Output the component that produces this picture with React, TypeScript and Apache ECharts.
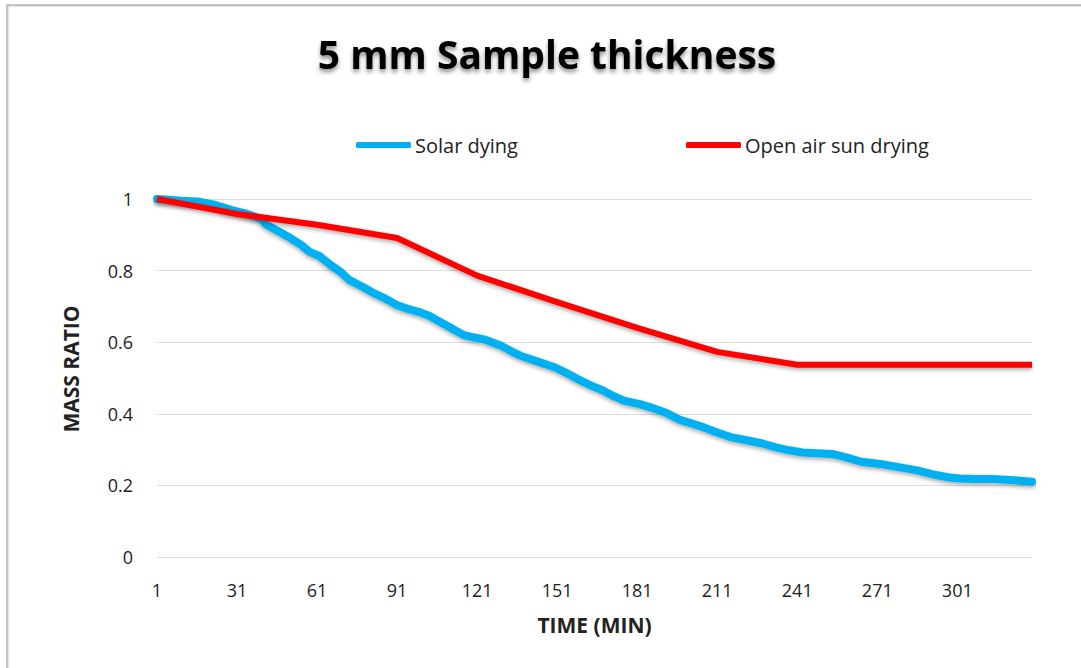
import React, { useEffect, useRef } from "react";
import * as echarts from "echarts";

const titleText = "5 mm Sample thickness";
const xAxisName = "TIME (MIN)";
const yAxisName = "MASS RATIO";
const seriesNames = ["Solar dying", "Open air sun drying"];
const xTickStep = 30;
const lastMinute = 329;

const solarMinutes = [
  1, 5, 10, 17, 22, 29, 34, 40, 42, 46, 51, 55, 58, 62, 66, 70, 73, 78, 82, 86,
  91, 95, 99, 103, 108, 112, 116, 120, 124, 130, 134, 138, 144, 150, 155, 160,
  164, 168, 172, 176, 182, 186, 192, 197, 201, 206, 211, 216, 222, 228, 233,
  238, 243, 248, 254, 259, 265, 272, 279, 286, 293, 298, 302, 308, 314, 321, 329,
];
const solarValues = [
  1.0, 0.998, 0.995, 0.992, 0.985, 0.969, 0.96, 0.945, 0.928, 0.912, 0.891,
  0.872, 0.853, 0.84, 0.816, 0.795, 0.774, 0.755, 0.738, 0.724, 0.703, 0.693,
  0.685, 0.674, 0.653, 0.636, 0.62, 0.613, 0.607, 0.59, 0.574, 0.56, 0.545,
  0.53, 0.512, 0.492, 0.478, 0.466, 0.45, 0.437, 0.427, 0.418, 0.402, 0.383,
  0.374, 0.362, 0.348, 0.335, 0.326, 0.317, 0.306, 0.298, 0.292, 0.29, 0.288,
  0.279, 0.266, 0.26, 0.251, 0.242, 0.229, 0.222, 0.219, 0.218, 0.218, 0.215,
  0.21,
];

const openMinutes = [1, 31, 61, 91, 121, 151, 181, 211, 241, 271, 301, 329];
const openValues = [1.0, 0.958, 0.928, 0.891, 0.786, 0.712, 0.64, 0.573, 0.537, 0.537, 0.537, 0.537];

const FONT = "'Open Sans', Lato, sans-serif";

export default function App() {
  const ref = useRef<HTMLDivElement>(null);

  useEffect(() => {
    if (!ref.current) return;
    const chart = echarts.init(ref.current, undefined, { renderer: "svg" });

    const solarData = solarMinutes.map((m, i) => [m - 1, solarValues[i]]);
    const openData = openMinutes.map((m, i) => [m - 1, openValues[i]]);

    const lineShadow = {
      shadowColor: "rgba(0,0,0,0.35)",
      shadowBlur: 4,
      shadowOffsetY: 2,
    };

    const legendText = { fontFamily: FONT, fontSize: 20, color: "#222", padding: [0, 0, 0, -1] };

    chart.setOption({
      animation: false,
      backgroundColor: "#ffffff",
      graphic: [
        { type: "rect", shape: { x: 6, y: 4, width: 1075, height: 2.5 }, style: { fill: "#c3c3c3" }, silent: true },
        { type: "rect", shape: { x: 6, y: 4, width: 2.5, height: 664 }, style: { fill: "#c3c3c3" }, silent: true },
        {
          type: "text",
          x: 547,
          y: 53,
          style: {
            text: titleText,
            fontFamily: FONT,
            fontSize: 39,
            fontWeight: "bold",
            fill: "#000000",
            align: "center",
            verticalAlign: "middle",
            textShadowColor: "rgba(0,0,0,0.45)",
            textShadowBlur: 4,
            textShadowOffsetY: 3,
          },
          silent: true,
        },
      ],
      legend: [
        {
          data: [seriesNames[0]],
          left: 356,
          top: 135,
          padding: 0,
          itemWidth: 55,
          itemHeight: 6,
          itemGap: 0,
          textStyle: legendText,
          icon: "roundRect",
        },
        {
          data: [seriesNames[1]],
          left: 686,
          top: 135,
          padding: 0,
          itemWidth: 55,
          itemHeight: 6,
          itemGap: 0,
          textStyle: legendText,
          icon: "roundRect",
        },
      ],
      grid: { left: 157, right: 49, top: 199, bottom: 111, containLabel: false },
      xAxis: {
        type: "value",
        min: 0,
        max: lastMinute - 1,
        interval: xTickStep,
        name: xAxisName,
        nameLocation: "middle",
        nameGap: 57,
        nameTextStyle: { fontFamily: FONT, fontSize: 21, fontWeight: "bold", color: "#222" },
        axisLine: { show: false },
        axisTick: { show: false },
        splitLine: { show: false },
        axisLabel: {
          fontFamily: FONT,
          fontSize: 18,
          color: "#222",
          margin: 24,
          showMaxLabel: false,
          formatter: (v: number) => (v % xTickStep === 0 ? String(v + 1) : ""),
        },
      },
      yAxis: {
        type: "value",
        min: 0,
        max: 1,
        interval: 0.2,
        name: yAxisName,
        nameLocation: "middle",
        nameGap: 76,
        nameTextStyle: { fontFamily: FONT, fontSize: 21, fontWeight: "bold", color: "#222", padding: [0, 0, 0, 18] },
        axisLine: { show: false },
        axisTick: { show: false },
        splitLine: { show: true, lineStyle: { color: "#dedede", width: 1 } },
        axisLabel: {
          fontFamily: FONT,
          fontSize: 18,
          color: "#222",
          margin: 24,
          formatter: (v: number) => String(Math.round(v * 10) / 10),
        },
      },
      series: [
        {
          name: seriesNames[0],
          type: "line",
          data: solarData,
          showSymbol: false,
          symbol: "none",
          color: "#00b0f0",
          lineStyle: { color: "#00b0f0", width: 8, cap: "round", join: "round", ...lineShadow },
          z: 2,
        },
        {
          name: seriesNames[1],
          type: "line",
          data: openData,
          showSymbol: false,
          symbol: "none",
          color: "#ff0000",
          lineStyle: { color: "#ff0000", width: 6, join: "round", ...lineShadow },
          z: 3,
        },
      ],
    });

    return () => chart.dispose();
  }, []);

  return (
    <div
      ref={ref}
      style={{ position: "fixed", left: 0, top: 0, width: 1081, height: 668, background: "#fff" }}
    />
  );
}
